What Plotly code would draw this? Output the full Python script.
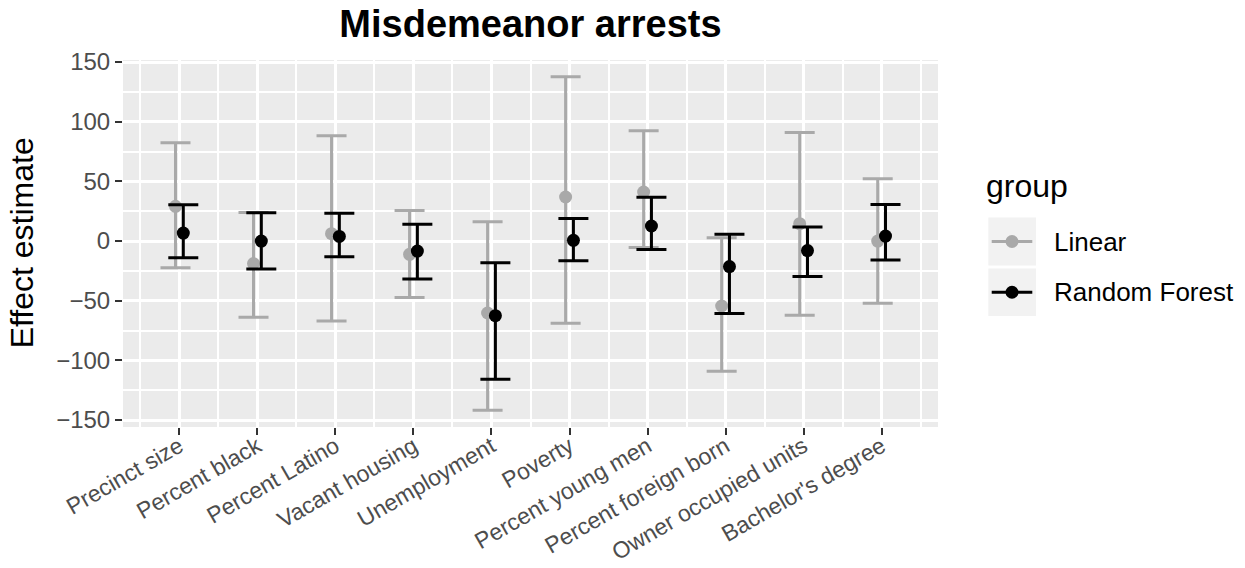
import plotly.graph_objects as go

# Predictors (x-axis categories)
predictors = [
    "Precinct size", "Percent black", "Percent Latino", "Vacant housing",
    "Unemployment", "Poverty", "Percent young men", "Percent foreign born",
    "Owner occupied units", "Bachelor's degree",
]

# Linear model: estimate with lower / upper interval bounds
linear_est = [29.1, -18.9, 6.2, -11.1, -60.3, 36.9, 41.0, -54.4, 14.6, 0.0]
linear_lo = [-22.3, -63.9, -67.0, -47.2, -141.8, -68.9, -5.5, -109.1, -62.2, -52.2]
linear_hi = [82.4, 24.0, 88.3, 25.7, 16.2, 137.7, 92.5, 2.8, 91.0, 52.3]

# Random forest: estimate with lower / upper interval bounds
rf_est = [6.7, 0.0, 3.9, -8.4, -62.5, 0.6, 12.6, -21.4, -8.0, 4.2]
rf_lo = [-13.9, -23.5, -13.1, -31.8, -115.8, -16.4, -7.0, -60.8, -29.8, -15.9]
rf_hi = [30.5, 23.8, 23.2, 14.0, -18.1, 18.8, 36.6, 5.6, 11.7, 30.7]

y_ticks = [-150, -100, -50, 0, 50, 100, 150]

groups = [
    ("Linear", linear_est, linear_lo, linear_hi, "#A9A9A9", -0.05),
    ("Random Forest", rf_est, rf_lo, rf_hi, "#000000", 0.05),
]

W, H = 1245, 568
ML, MR, MT, MB = 123, 307, 60, 141
PW, PH = W - ML - MR, H - MT - MB

FONT = "Liberation Sans, Arial, sans-serif"

fig = go.Figure()
for name, est, lo, hi, color, dodge in groups:
    xs = [i + dodge for i in range(len(predictors))]
    fig.add_trace(go.Scatter(
        x=xs, y=est, mode="markers", name=name, showlegend=False,
        marker=dict(color=color, size=13, line=dict(width=0)),
        error_y=dict(
            type="data", symmetric=False,
            array=[h - e for h, e in zip(hi, est)],
            arrayminus=[e - l for e, l in zip(est, lo)],
            color=color, thickness=3, width=15,
        ),
    ))


def px_x(px):
    return (px - ML) / PW


def px_y(py):
    return (H - MB - py) / PH


# Legend drawn beside the panel
shapes = []
annotations = []
annotations.append(dict(
    text="group", xref="paper", yref="paper", x=px_x(984), y=px_y(186),
    xanchor="left", yanchor="middle", showarrow=False,
    font=dict(family=FONT, size=32, color="#000000"),
))
key_rows = [(217.5, 265.5), (268.5, 316.0)]
for (name, _, _, _, color, _), (top, bot) in zip(groups, key_rows):
    cy = (top + bot) / 2
    shapes.append(dict(type="rect", xref="paper", yref="paper",
                       x0=px_x(988.3), x1=px_x(1036), y0=px_y(bot), y1=px_y(top),
                       fillcolor="#F2F2F2", line=dict(width=0), layer="above"))
    shapes.append(dict(type="line", xref="paper", yref="paper",
                       x0=px_x(991.7), x1=px_x(1032.3), y0=px_y(cy), y1=px_y(cy),
                       line=dict(color=color, width=3), layer="above"))
    shapes.append(dict(type="circle", xref="paper", yref="paper",
                       xsizemode="pixel", ysizemode="pixel",
                       xanchor=px_x(1012), yanchor=px_y(cy),
                       x0=-6.5, x1=6.5, y0=-6.5, y1=6.5,
                       fillcolor=color, line=dict(width=0), layer="above"))
    annotations.append(dict(
        text=name, xref="paper", yref="paper", x=px_x(1052), y=px_y(cy),
        xanchor="left", yanchor="middle", showarrow=False,
        font=dict(family=FONT, size=26, color="#000000"),
    ))

# y-axis title
annotations.append(dict(
    text="Effect estimate", xref="paper", yref="paper",
    x=px_x(22), y=px_y(243.3), xanchor="center", yanchor="middle",
    textangle=-90, showarrow=False,
    font=dict(family=FONT, size=32, color="#000000"),
))

fig.update_layout(
    width=W, height=H,
    margin=dict(l=ML, r=MR, t=MT, b=MB, autoexpand=False),
    paper_bgcolor="white", plot_bgcolor="#EBEBEB",
    font=dict(family=FONT),
    title=dict(text="<b>Misdemeanor arrests</b>", xref="paper", x=0.5,
               xanchor="center", yref="container", y=1 - 24 / H, yanchor="middle",
               font=dict(family=FONT, size=38, color="#000000")),
    shapes=shapes, annotations=annotations,
    showlegend=False,
)
fig.update_xaxes(
    automargin=False,
    range=[-0.7227, len(predictors) - 1 + 0.7227],
    tickmode="array", tickvals=list(range(len(predictors))), ticktext=predictors,
    tickangle=-30, ticks="outside", ticklen=7, tickwidth=2, tickcolor="#333333",
    ticklabelstandoff=-11,
    tickfont=dict(family=FONT, size=23, color="#4D4D4D"),
    showgrid=True, gridcolor="white", gridwidth=3, zeroline=False, showline=False,
    minor=dict(tickmode="array", tickvals=[i - 0.5 for i in range(len(predictors) + 1)],
               showgrid=True, gridcolor="white", gridwidth=1.5, ticks=""),
)
fig.update_yaxes(
    automargin=False,
    range=[-155.8, 151.7],
    tickmode="array", tickvals=y_ticks,
    ticks="outside", ticklen=7, tickwidth=2, tickcolor="#333333",
    tickfont=dict(family=FONT, size=24, color="#4D4D4D"),
    showgrid=True, gridcolor="white", gridwidth=3, zeroline=False, showline=False,
    minor=dict(tickmode="array", tickvals=[-125, -75, -25, 25, 75, 125],
               showgrid=True, gridcolor="white", gridwidth=1.5, ticks=""),
)

fig.write_html("out.html")
